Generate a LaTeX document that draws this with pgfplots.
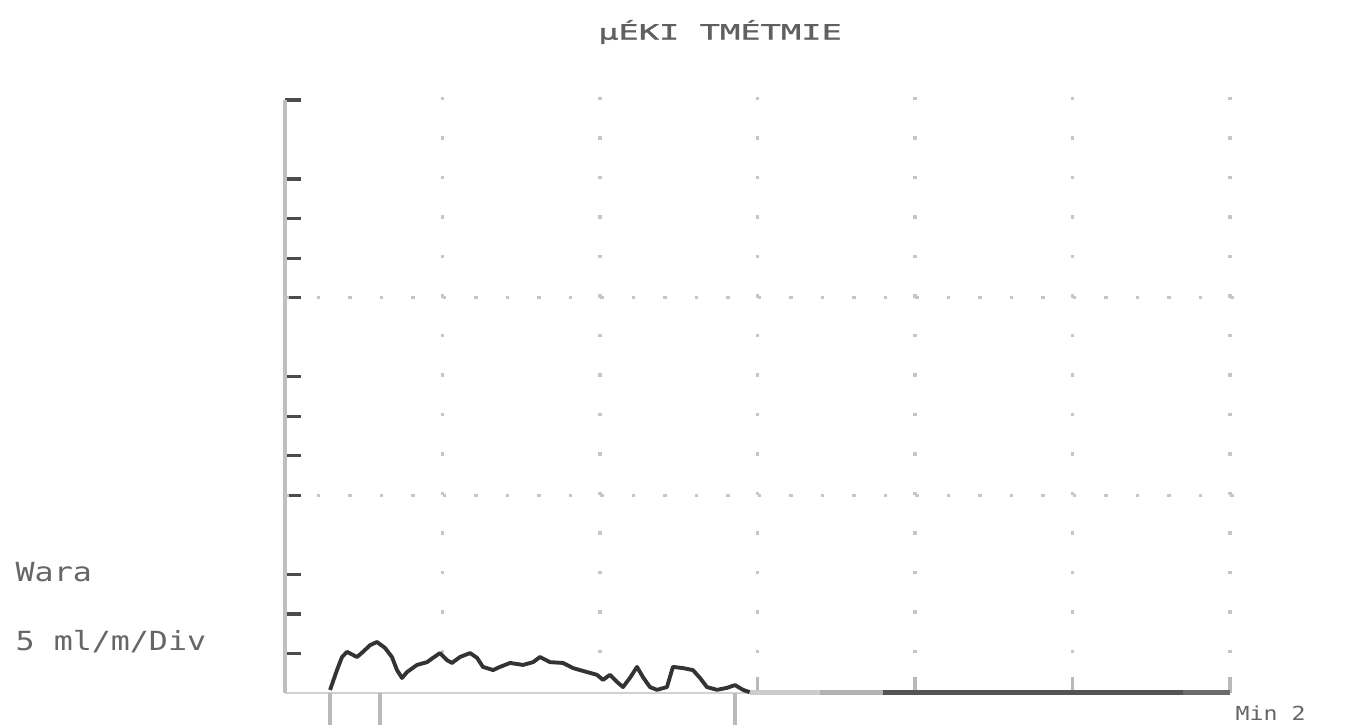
\documentclass[border=0pt]{standalone}
\usepackage{pgfplots}
\pgfplotsset{compat=1.18}
\usepackage{fontspec}
\setmainfont{DejaVu Sans}
\newfontfamily\lblfont[FakeStretch=1.2]{DejaVu Sans Mono}
\newfontfamily\ttlfont[FakeStretch=1.6,FakeBold=1.5]{DejaVu Sans Mono}
\begin{document}
\begin{tikzpicture}[x=1mm,y=1mm]
\useasboundingbox (0,0) rectangle (134.8,72.5);
\begin{axis}[
  at={(28.5mm,3.2mm)}, anchor=south west,
  scale only axis, width=94.5mm, height=59.3mm,
  xmin=0, xmax=6, ymin=0, ymax=15,
  axis lines=left, axis line style={-},
  x axis line style={gray!35, line width=0.6pt},
  y axis line style={gray!50, line width=1pt},
  tick align=inside, major tick length=1.6mm,
  xtick={3,4,5,6}, xticklabels={},
  x tick style={gray!55, line width=1pt},
  extra x ticks={0.286,0.603,2.857}, extra x tick labels={},
  extra x tick style={tick align=outside, major tick length=3.2mm, tick style={gray!40, line width=1pt}},
  ytick={1,2,3,5,6,7,8,10,11,12,13,15}, yticklabels={},
  y tick style={black!70, line width=0.9pt},
  clip=false,
]
% dotted grid
\pgfplotsinvokeforeach{1,2,3,4,5,6}{
  \draw[gray!45, line width=0.35mm, dash pattern=on 0.35mm off 3.603mm] (axis cs:#1,1) -- (axis cs:#1,15.1);
}
\pgfplotsinvokeforeach{5,10}{
  \draw[gray!45, line width=0.35mm, dash pattern=on 0.35mm off 2.8mm] (axis cs:0,#1) -- (axis cs:6.05,#1);
}
% flat part of trace
\addplot[gray!40, line width=1.5pt] coordinates {(2.95,0.02) (3.4,0.02)};
\addplot[gray!60, line width=1.5pt] coordinates {(3.4,0.02) (3.8,0.02)};
\addplot[gray!65!black, line width=1.5pt] coordinates {(3.8,0.02) (5.7,0.02)};
\addplot[gray!55!black!80, line width=1.5pt] coordinates {(5.7,0.02) (6.0,0.02)};
% trace
\addplot[gray!40!black, line width=1.1pt, line join=round] coordinates {
(0.286,0.076) (0.330,0.58) (0.362,0.91) (0.394,1.04) (0.457,0.91) (0.495,1.04)
(0.540,1.21) (0.584,1.29) (0.635,1.14) (0.679,0.91) (0.711,0.58) (0.743,0.38)
(0.775,0.53) (0.838,0.71) (0.902,0.78) (0.940,0.89) (0.984,1.01) (1.029,0.83)
(1.060,0.76) (1.111,0.91) (1.175,1.01) (1.219,0.89) (1.257,0.66) (1.321,0.58)
(1.365,0.66) (1.429,0.76) (1.511,0.71) (1.575,0.78) (1.619,0.91) (1.683,0.78)
(1.765,0.76) (1.829,0.63) (1.917,0.53) (1.981,0.46) (2.019,0.33) (2.063,0.46)
(2.108,0.28) (2.146,0.15) (2.190,0.38) (2.235,0.66) (2.273,0.40) (2.317,0.15)
(2.362,0.08) (2.425,0.15) (2.463,0.66) (2.527,0.63) (2.590,0.58) (2.635,0.38)
(2.679,0.15) (2.743,0.08) (2.806,0.13) (2.857,0.20) (2.908,0.08) (2.95,0.02)
};
\end{axis}
\node[font=\ttlfont\fontsize{6}{7}\selectfont, text=gray!75!black] at (72.0,69.3) {µÉKI TMÉTMIE};
\node[font=\lblfont\fontsize{7.5}{9}\selectfont, text=gray!80!black, anchor=west, inner sep=0pt] at (1.5,15.3) {Wara};
\node[font=\lblfont\fontsize{7.5}{9}\selectfont, text=gray!80!black, anchor=west, inner sep=0pt] at (1.5,8.3) {5 ml/m/Div};
\node[font=\lblfont\fontsize{5.5}{6}\selectfont, text=gray!80!black, anchor=south west, inner sep=0pt] at (123.5,0.4) {Min 2};
\end{tikzpicture}
\end{document}
